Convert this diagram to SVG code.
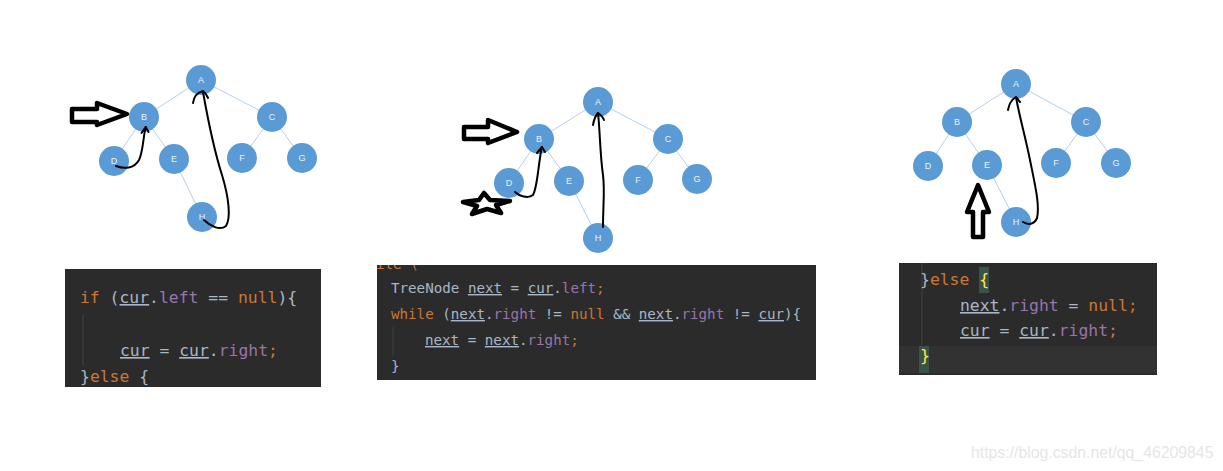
<svg xmlns="http://www.w3.org/2000/svg" width="1223" height="471" viewBox="0 0 1223 471">
<style>
.edge{stroke:#B4D0EC;stroke-width:1;fill:none}
.node circle{fill:#5B9BD5}
.node text{font-family:"Liberation Sans",Arial,sans-serif;font-size:9px;fill:#EAF2FB;text-anchor:middle;dominant-baseline:central}
.ink{stroke:#000;fill:none;stroke-linecap:round;stroke-linejoin:round}
.thin{stroke-width:2}
.thick{stroke-width:4.5}
.box{fill:#2B2B2B}
.code{font-family:"DejaVu Sans Mono","Liberation Mono",monospace;fill:#A9B7C6;white-space:pre}
.c1{font-size:16.4px}
.c2{font-size:14.2px}
.kw{fill:#CC7832}
.fd{fill:#9876AA}
.u{text-decoration:underline}
.br{fill:#FFEF28}
.guide{stroke:#404040;stroke-width:1}
.wm{font-family:"Liberation Sans",Arial,sans-serif;font-size:15.8px;fill:#E6E6E6}
</style>
<defs>
<clipPath id="clip2"><rect x="377" y="265" width="439" height="115"/></clipPath>
</defs>

<g id="connectors">
<line class="edge" x1="201" y1="80" x2="144" y2="117"/>
<line class="edge" x1="201" y1="80" x2="272" y2="117"/>
<line class="edge" x1="144" y1="117" x2="114" y2="161"/>
<line class="edge" x1="144" y1="117" x2="174" y2="159"/>
<line class="edge" x1="272" y1="117" x2="242" y2="158"/>
<line class="edge" x1="272" y1="117" x2="302" y2="158"/>
<line class="edge" x1="174" y1="159" x2="202" y2="217"/>

<line class="edge" x1="598" y1="102" x2="539" y2="139"/>
<line class="edge" x1="598" y1="102" x2="668" y2="139"/>
<line class="edge" x1="539" y1="139" x2="509" y2="183"/>
<line class="edge" x1="539" y1="139" x2="569" y2="181"/>
<line class="edge" x1="668" y1="139" x2="638" y2="180"/>
<line class="edge" x1="668" y1="139" x2="697" y2="179"/>
<line class="edge" x1="569" y1="181" x2="598" y2="238"/>

<line class="edge" x1="1016" y1="84" x2="957" y2="122"/>
<line class="edge" x1="1016" y1="84" x2="1086" y2="122"/>
<line class="edge" x1="957" y1="122" x2="928" y2="166"/>
<line class="edge" x1="957" y1="122" x2="987" y2="165"/>
<line class="edge" x1="1086" y1="122" x2="1056" y2="163"/>
<line class="edge" x1="1086" y1="122" x2="1116" y2="163"/>
<line class="edge" x1="987" y1="165" x2="1016" y2="222"/>
</g>

<g id="t1-A" class="node"><circle cx="201" cy="80" r="15"/><text x="201" y="80">A</text></g>
<g id="t1-B" class="node"><circle cx="144" cy="117" r="15"/><text x="144" y="117">B</text></g>
<g id="t1-C" class="node"><circle cx="272" cy="117" r="15"/><text x="272" y="117">C</text></g>
<g id="t1-D" class="node"><circle cx="114" cy="161" r="15"/><text x="114" y="161">D</text></g>
<g id="t1-E" class="node"><circle cx="174" cy="159" r="15"/><text x="174" y="159">E</text></g>
<g id="t1-F" class="node"><circle cx="242" cy="158" r="15"/><text x="242" y="158">F</text></g>
<g id="t1-G" class="node"><circle cx="302" cy="158" r="15"/><text x="302" y="158">G</text></g>
<g id="t1-H" class="node"><circle cx="202" cy="217" r="15"/><text x="202" y="217">H</text></g>

<g id="t2-A" class="node"><circle cx="598" cy="102" r="15"/><text x="598" y="102">A</text></g>
<g id="t2-B" class="node"><circle cx="539" cy="139" r="15"/><text x="539" y="139">B</text></g>
<g id="t2-C" class="node"><circle cx="668" cy="139" r="15"/><text x="668" y="139">C</text></g>
<g id="t2-D" class="node"><circle cx="509" cy="183" r="15"/><text x="509" y="183">D</text></g>
<g id="t2-E" class="node"><circle cx="569" cy="181" r="15"/><text x="569" y="181">E</text></g>
<g id="t2-F" class="node"><circle cx="638" cy="180" r="15"/><text x="638" y="180">F</text></g>
<g id="t2-G" class="node"><circle cx="697" cy="179" r="15"/><text x="697" y="179">G</text></g>
<g id="t2-H" class="node"><circle cx="598" cy="238" r="15"/><text x="598" y="238">H</text></g>

<g id="t3-A" class="node"><circle cx="1016" cy="84" r="15"/><text x="1016" y="84">A</text></g>
<g id="t3-B" class="node"><circle cx="957" cy="122" r="15"/><text x="957" y="122">B</text></g>
<g id="t3-C" class="node"><circle cx="1086" cy="122" r="15"/><text x="1086" y="122">C</text></g>
<g id="t3-D" class="node"><circle cx="928" cy="166" r="15"/><text x="928" y="166">D</text></g>
<g id="t3-E" class="node"><circle cx="987" cy="165" r="15"/><text x="987" y="165">E</text></g>
<g id="t3-F" class="node"><circle cx="1056" cy="163" r="15"/><text x="1056" y="163">F</text></g>
<g id="t3-G" class="node"><circle cx="1116" cy="163" r="15"/><text x="1116" y="163">G</text></g>
<g id="t3-H" class="node"><circle cx="1016" cy="222" r="15"/><text x="1016" y="222">H</text></g>

<g id="ink">
<!-- tree 1 -->
<polygon class="ink thick" points="72,109 97,109 97,103 127,114 97,125 97,122 72,122"/>
<path class="ink thin" d="M116,166 C124,169 134,169 139,160 C143,152 143,138 145.7,127"/>
<path class="ink thin" d="M141.5,133 L145.7,127 L148.5,132"/>
<path class="ink thin" d="M204,220 C210,226 220,231 226,226 C231,218 229,198 222,175 C214,150 208,120 203,92"/>
<path class="ink thin" d="M193,103 C194,97 196,93 203,91 C206,93 207,96 208,98"/>
<!-- tree 2 -->
<polygon class="ink thick" points="464,127 488,127 488,120 517,132 488,143 488,139 464,139"/>
<polygon class="ink thick" points="484,193 490,200 510,201 496,205 501,213 487,209 472,214 477,206 463,202 479,200"/>
<path class="ink thin" d="M515,192 C519,196 528,199 533,195 C537,188 538,170 540,158 C541,152 541,149 542,147"/>
<path class="ink thin" d="M537,153 L542,147 L545,152"/>
<path class="ink thin" d="M603,227 C603,205 605,190 603,175 C600,155 600,130 598,113"/>
<path class="ink thin" d="M593,125 C594,119 596,115 598,113 C601,115 603,117 604,120"/>
<!-- tree 3 -->
<polygon class="ink thick" points="973,237 973,212 967,212 978,185 989,212 983,212 983,237"/>
<path class="ink thin" d="M1023,222 C1028,225 1034,225 1037,218 C1040,205 1035,185 1030,160 C1025,135 1019,115 1016,97"/>
<path class="ink thin" d="M1008,110 C1009,104 1011,100 1016,97 C1018,99 1019,101 1020,102"/>
</g>

<g id="code1">
<rect class="box" x="65" y="269" width="256" height="118"/>
<line class="guide" x1="83" y1="314" x2="83" y2="366"/>
<text class="code c1" x="80" y="303"><tspan class="kw">if</tspan> (<tspan class="u">cur</tspan>.<tspan class="fd">left</tspan> == <tspan class="kw">null</tspan>){</text>
<text class="code c1" x="120" y="356"><tspan class="u">cur</tspan> = <tspan class="u">cur</tspan>.<tspan class="fd">right</tspan><tspan class="kw">;</tspan></text>
<text class="code c1" x="80" y="382">}<tspan class="kw">else</tspan> {</text>
</g>

<g id="code2">
<rect class="box" x="377" y="265" width="439" height="115"/>
<line class="guide" x1="393" y1="327" x2="393" y2="356"/>
<g clip-path="url(#clip2)">
<text class="code c2 kw" x="376" y="269">ile (</text>
</g>
<text class="code c2" x="391" y="293">TreeNode <tspan class="u">next</tspan> = <tspan class="u">cur</tspan>.<tspan class="fd">left</tspan><tspan class="kw">;</tspan></text>
<text class="code c2" x="391" y="319"><tspan class="kw">while</tspan> (<tspan class="u">next</tspan>.<tspan class="fd">right</tspan> != <tspan class="kw">null</tspan> &amp;&amp; <tspan class="u">next</tspan>.<tspan class="fd">right</tspan> != <tspan class="u">cur</tspan>){</text>
<text class="code c2" x="425" y="345"><tspan class="u">next</tspan> = <tspan class="u">next</tspan>.<tspan class="fd">right</tspan><tspan class="kw">;</tspan></text>
<text class="code c2" x="391" y="371">}</text>
</g>

<g id="code3">
<rect class="box" x="899" y="263" width="258" height="112"/>
<rect x="899" y="346" width="258" height="27" fill="#323232"/>
<line class="guide" x1="922" y1="263" x2="922" y2="345"/>
<rect x="979" y="267" width="10" height="26" fill="#3B514D"/>
<rect x="919" y="346" width="10" height="27" fill="#3B514D"/>
<text class="code c1" x="920" y="285">}<tspan class="kw">else</tspan> <tspan class="br">{</tspan></text>
<text class="code c1" x="960" y="311"><tspan class="u">next</tspan>.<tspan class="fd">right</tspan> = <tspan class="kw">null;</tspan></text>
<text class="code c1" x="960" y="336"><tspan class="u">cur</tspan> = <tspan class="u">cur</tspan>.<tspan class="fd">right</tspan><tspan class="kw">;</tspan></text>
<text class="code c1 br" x="920" y="361">}</text>
</g>

<text class="wm" x="971" y="458">https://blog.csdn.net/qq_46209845</text>
</svg>
